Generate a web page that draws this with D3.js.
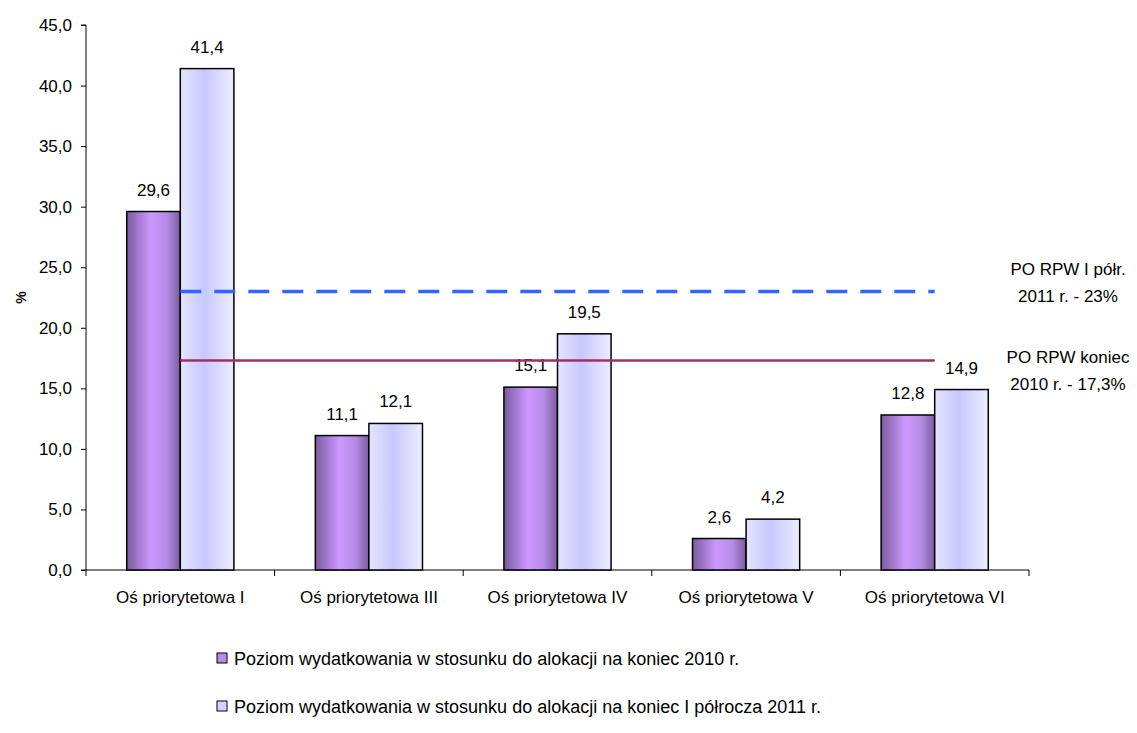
<!DOCTYPE html>
<html>
<head>
<meta charset="utf-8">
<script src="https://cdn.jsdelivr.net/npm/d3@7"></script>
<style>
  body { margin: 0; background: #fff; }
  svg { font-family: "Liberation Sans", Arial, sans-serif; }
</style>
</head>
<body>
<div id="chart"></div>
<script>
(function () {
    const categories = ['Oś priorytetowa I', 'Oś priorytetowa III', 'Oś priorytetowa IV', 'Oś priorytetowa V', 'Oś priorytetowa VI'];
    const end2010 = [29.6, 11.1, 15.1, 2.6, 12.8];
    const half2011 = [41.4, 12.1, 19.5, 4.2, 14.9];
    const seriesNames = [
        'Poziom wydatkowania w stosunku do alokacji na koniec 2010 r.',
        'Poziom wydatkowania w stosunku do alokacji na koniec I półrocza 2011 r.',
    ];
    const avg2011 = 23;
    const avg2010 = 17.3;
    const yTicks = [0, 5, 10, 15, 20, 25, 30, 35, 40, 45];

    const [width, height] = [1137, 733];
    const [marginLeft, marginTop] = [86, 25];
    const plotW = 943, plotH = 545;
    const fmt = d => d3.format('.1f')(d).replace('.', ',');

    let svg = d3.select('#chart')
                .append('svg')
                .attr('width', width)
                .attr('height', height);

    let defs = svg.append('defs');
    let g1 = defs.append('linearGradient').attr('id', 'gPurple');
    [['0%', '#7a5c9e'], ['45%', '#cc99ff'], ['75%', '#b58ae6'], ['100%', '#7a5c9e']]
        .forEach(([o, c]) => g1.append('stop').attr('offset', o).attr('stop-color', c));
    let g2 = defs.append('linearGradient').attr('id', 'gLight');
    [['0%', '#e4e4ff'], ['45%', '#c8c8ff'], ['100%', '#ececff']]
        .forEach(([o, c]) => g2.append('stop').attr('offset', o).attr('stop-color', c));

    let plot = svg.append('g').attr('transform', `translate(${marginLeft}, ${marginTop})`);

    let x = d3.scaleBand().domain(categories).range([0, plotW]);
    let x1 = d3.scaleBand().domain([0, 1]).range([0, x.bandwidth()]).paddingOuter(0.76).paddingInner(0);
    let y = d3.scaleLinear().domain([0, 45]).range([plotH, 0]);

    // y axis
    let yAxis = plot.append('g')
        .call(d3.axisLeft(y).tickValues(yTicks).tickSize(5).tickPadding(9).tickFormat(fmt));
    yAxis.select('.domain').attr('stroke', '#000').attr('d', `M-5,${plotH}H0V0H-5`);
    yAxis.selectAll('text').attr('font-size', 17).attr('fill', '#000').attr('font-family', 'Liberation Sans, Arial, sans-serif');

    // x axis
    let xAxis = plot.append('g').attr('transform', `translate(0, ${plotH})`)
        .call(d3.axisBottom(x).tickSize(0).tickPadding(21));
    xAxis.select('.domain').attr('stroke', '#000').attr('d', `M0,0H${plotW}`);
    xAxis.selectAll('text').attr('font-size', 17).attr('fill', '#000').attr('font-family', 'Liberation Sans, Arial, sans-serif');
    plot.append('g').selectAll('line')
        .data(d3.range(categories.length + 1))
        .enter().append('line')
        .attr('x1', i => i * x.step()).attr('x2', i => i * x.step())
        .attr('y1', plotH).attr('y2', plotH + 6)
        .attr('stroke', '#000');

    // bars
    let series = [end2010, half2011];
    let fills = ['url(#gPurple)', 'url(#gLight)'];
    series.forEach((vals, s) => {
        let grp = plot.append('g');
        grp.selectAll('rect')
           .data(vals)
           .enter().append('rect')
           .attr('x', (d, i) => x(categories[i]) + x1(s))
           .attr('y', d => y(d))
           .attr('width', x1.bandwidth())
           .attr('height', d => plotH - y(d))
           .attr('fill', fills[s])
           .attr('stroke', '#000')
           .attr('stroke-width', 1.5);
        grp.selectAll('text')
           .data(vals)
           .enter().append('text')
           .attr('x', (d, i) => x(categories[i]) + x1(s) + x1.bandwidth() / 2)
           .attr('y', d => y(d) - 16)
           .attr('text-anchor', 'middle')
           .attr('font-size', 17)
           .text(fmt);
    });

    // reference lines from first to last category center
    let cx = c => x(c) + x.bandwidth() / 2;
    let first = categories[0], last = categories[categories.length - 1];
    plot.append('line')
        .attr('x1', cx(first)).attr('x2', cx(last))
        .attr('y1', y(avg2011)).attr('y2', y(avg2011))
        .attr('stroke', '#3366ff').attr('stroke-width', 3.5)
        .attr('stroke-dasharray', '21,13');
    plot.append('line')
        .attr('x1', cx(first)).attr('x2', cx(last))
        .attr('y1', y(avg2010)).attr('y2', y(avg2010))
        .attr('stroke', '#a0305f').attr('stroke-width', 2.5);

    let notes = [
        ['PO RPW I półr.', '2011 r. - 23%', avg2011, -16],
        ['PO RPW koniec', '2010 r. - 17,3%', avg2010, 3],
    ];
    notes.forEach(([a, b, v, off]) => {
        let t = plot.append('text').attr('font-size', 17).attr('text-anchor', 'middle');
        t.append('tspan').attr('x', 982).attr('y', y(v) + off).text(a);
        t.append('tspan').attr('x', 982).attr('y', y(v) + off + 27).text(b);
    });

    // y title
    svg.append('text')
       .attr('transform', `translate(26, ${marginTop + plotH / 2}) rotate(-90)`)
       .attr('text-anchor', 'middle')
       .attr('font-size', 14)
       .attr('font-weight', 'bold')
       .text('%');

    // legend
    let legend = svg.append('g');
    seriesNames.forEach((name, i) => {
        let ly = 658 + i * 48;
        legend.append('rect')
              .attr('x', 217).attr('y', ly - 5)
              .attr('width', 10).attr('height', 10)
              .attr('fill', i === 0 ? '#b88ae8' : '#d4d4ff')
              .attr('stroke', '#000').attr('stroke-width', 1);
        legend.append('text')
              .attr('x', 234).attr('y', ly + 7)
              .attr('font-size', 18)
              .text(name);
    });
})();
</script>
</body>
</html>
